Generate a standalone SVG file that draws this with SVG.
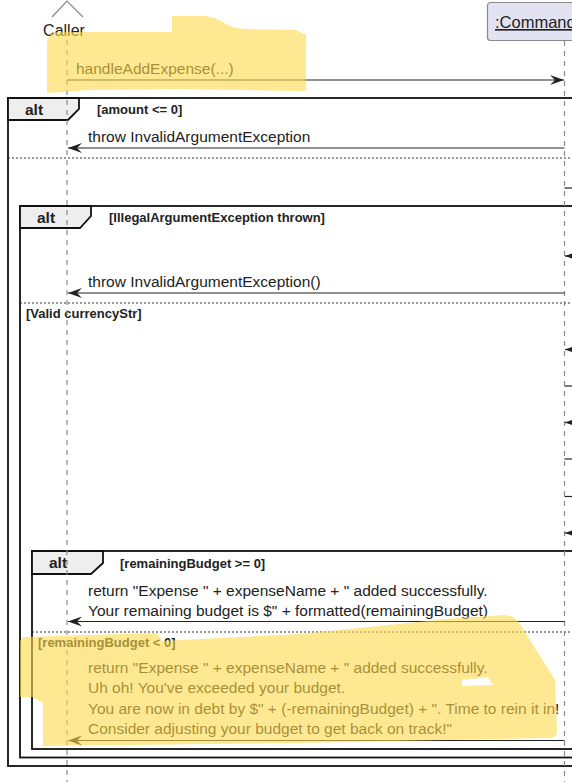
<svg xmlns="http://www.w3.org/2000/svg" width="572" height="782" viewBox="0 0 572 782">
<style>
.t{font-family:"Liberation Sans",Arial,sans-serif;font-size:15.5px;fill:#222}
.g{font-family:"Liberation Sans",Arial,sans-serif;font-size:13px;font-weight:bold;fill:#222}
.alt{font-family:"Liberation Sans",Arial,sans-serif;font-size:15.5px;font-weight:bold;fill:#222}
.frame{fill:none;stroke:#111;stroke-width:1.8}
.tab{fill:#EEEEEE;stroke:#111;stroke-width:1.8}
.sep{stroke:#333;stroke-width:1.2;stroke-dasharray:2,2;fill:none}
.life{stroke:#8a8a8a;stroke-width:1.2;stroke-dasharray:5,5;fill:none}
.msg{stroke:#222;stroke-width:1.2;fill:none}
.hl{fill:#FFD84A;opacity:0.6}
</style>
<defs>
<marker id="ah" viewBox="0 0 14 10" refX="14" refY="5" markerWidth="14" markerHeight="10" markerUnits="userSpaceOnUse" orient="auto">
<path d="M0,0 L14,5 L0,10 L5,5 Z" fill="#222"/>
</marker>
</defs>
<rect width="572" height="782" fill="#fff"/>

<g id="frames">
<g id="alt-outer">
<rect class="frame" x="8" y="98" width="600" height="668"/>
<path class="tab" d="M8,98 L79,98 L79,109 L68,120 L8,120 Z"/>
<text class="alt" x="25" y="115">alt</text>
<text class="g" x="97" y="114">[amount &lt;= 0]</text>
<line class="sep" x1="8" y1="158" x2="572" y2="158"/>
</g>
<g id="alt-currency">
<rect class="frame" x="20" y="206" width="600" height="551.5"/>
<path class="tab" d="M20,206 L91,206 L91,216 L80,228 L20,228 Z"/>
<text class="alt" x="37" y="223">alt</text>
<text class="g" x="109" y="222">[IllegalArgumentException thrown]</text>
<line class="sep" x1="20" y1="303" x2="572" y2="303"/>
<text class="g" x="26" y="318">[Valid currencyStr]</text>
</g>
<g id="alt-budget">
<rect class="frame" x="32" y="551" width="600" height="198"/>
<path class="tab" d="M32,551 L103,551 L103,563 L91,574 L32,574 Z"/>
<text class="alt" x="49" y="568">alt</text>
<text class="g" x="120" y="568">[remainingBudget &gt;= 0]</text>
<line class="sep" x1="32" y1="632" x2="572" y2="632"/>
<text class="g" x="38" y="647">[remainingBudget &lt; 0]</text>
</g>
</g>

<g id="caller">
<polyline points="52,17 67,1 83,17" fill="none" stroke="#888" stroke-width="1.2"/>
<text class="t" x="64" y="36" text-anchor="middle" style="font-size:16px">Caller</text>
<line class="life" x1="67" y1="40" x2="67" y2="782"/>
</g>

<g id="command">
<rect x="487.5" y="2.5" width="120" height="38" rx="3" fill="#E2E2F0" stroke="#8a8a8a" stroke-width="1.2"/>
<text class="t" x="495" y="28" style="font-size:16.5px" text-decoration="underline">:Command</text>
<line class="life" x1="564.5" y1="41" x2="564.5" y2="782"/>
</g>

<g id="connectors">
<line class="msg" x1="67" y1="80" x2="564" y2="80" marker-end="url(#ah)"/>
<text class="t" x="76" y="74">handleAddExpense(...)</text>

<line class="msg" x1="564.5" y1="148" x2="68" y2="148" marker-end="url(#ah)"/>
<text class="t" x="88" y="142">throw InvalidArgumentException</text>

<line class="msg" x1="564.5" y1="188" x2="572" y2="188"/>
<line class="msg" x1="590" y1="256" x2="565" y2="256" marker-end="url(#ah)"/>

<line class="msg" x1="564.5" y1="293" x2="68" y2="293" marker-end="url(#ah)"/>
<text class="t" x="88" y="287">throw InvalidArgumentException()</text>

<line class="msg" x1="590" y1="349.5" x2="565" y2="349.5" marker-end="url(#ah)"/>
<line class="msg" x1="564.5" y1="386" x2="572" y2="386"/>
<line class="msg" x1="590" y1="422.5" x2="565" y2="422.5" marker-end="url(#ah)"/>
<line class="msg" x1="564.5" y1="459" x2="572" y2="459"/>
<line class="msg" x1="564.5" y1="496.5" x2="572" y2="496.5"/>
<line class="msg" x1="590" y1="533" x2="565" y2="533" marker-end="url(#ah)"/>

<line class="msg" x1="564.5" y1="621.5" x2="68" y2="621.5" marker-end="url(#ah)"/>
<text class="t" x="88" y="595.5">return "Expense " + expenseName + " added successfully.</text>
<text class="t" x="88" y="615.5">Your remaining budget is $" + formatted(remainingBudget)</text>

<line class="msg" x1="564.5" y1="740.5" x2="68" y2="740.5" marker-end="url(#ah)"/>
<text class="t" x="88" y="672.5">return "Expense " + expenseName + " added successfully.</text>
<text class="t" x="88" y="693">Uh oh! You've exceeded your budget.</text>
<text class="t" x="88" y="713.5">You are now in debt by $" + (-remainingBudget) + ". Time to rein it in!</text>
<text class="t" x="88" y="734">Consider adjusting your budget to get back on track!"</text>
</g>

<g id="highlights">
<path class="hl" d="M47,42 Q48,33 58,32 L172,32 L172,16 L205,16 Q216,17 226,24 Q232,28 245,29 L296,30 L306,35 L306,91 L180,89 L90,90 L47,93 Z"/>
<path class="hl" fill-rule="evenodd" d="M20,641 L23,637 L157,633 L162,641 L300,634 L457,618 L505,615 Q515,616 520,624 L555,680 L557,732 Q557,738 548,738 L300,743 L43,746 L43,703 L33,697 L20,697 Z M462,680 L488,677 L493,685 L462,686 Z"/>
</g>
</svg>
